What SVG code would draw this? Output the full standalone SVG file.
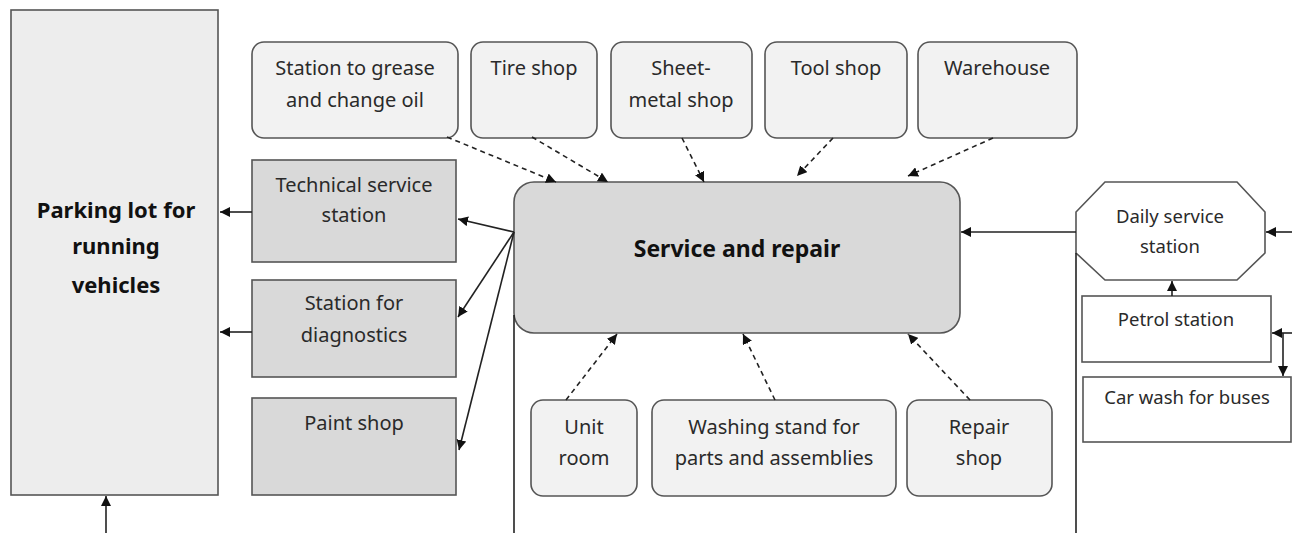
<svg xmlns="http://www.w3.org/2000/svg" width="1299" height="533" viewBox="0 0 1299 533">
<defs>
<marker id="ah" viewBox="0 0 10 10" refX="10" refY="5" markerWidth="10" markerHeight="10" markerUnits="userSpaceOnUse" orient="auto">
<path d="M0,0 L10,5 L0,10 z" fill="#111"/>
</marker>
</defs>
<style>
.box{stroke:#555;stroke-width:1.6}
.light{fill:#f2f2f2}
.park{fill:#ededed}
.dark{fill:#d9d9d9}
.white{fill:#ffffff}
text{font-family:"Noto Sans","Open Sans",sans-serif;font-size:20px;fill:#2a2a2a;text-anchor:middle}
.b{font-weight:bold;font-size:22px;fill:#111}
.t{font-weight:bold;font-size:23px;fill:#111}
.s{font-size:18.5px}
.c{fill:none;stroke:#222;stroke-width:1.6}
.d{fill:none;stroke:#222;stroke-width:1.6;stroke-dasharray:5,4}
</style>
<rect width="1299" height="533" fill="#ffffff"/>

<g id="parking">
<rect class="box park" x="11" y="10" width="207" height="485"/>
<text class="b" x="116" y="218">Parking lot for</text>
<text class="b" x="116" y="254">running</text>
<text class="b" x="116" y="293">vehicles</text>
</g>

<g id="technical">
<rect class="box dark" x="252" y="160" width="204" height="102"/>
<text x="354" y="192">Technical service</text>
<text x="354" y="222">station</text>
</g>
<g id="diagnostics">
<rect class="box dark" x="252" y="280" width="204" height="97"/>
<text x="354" y="310">Station for</text>
<text x="354" y="342">diagnostics</text>
</g>
<g id="paint">
<rect class="box dark" x="252" y="398" width="204" height="97"/>
<text x="354" y="430">Paint shop</text>
</g>

<g id="grease">
<rect class="box light" x="252" y="42" width="206" height="96" rx="12"/>
<text x="355" y="75">Station to grease</text>
<text x="355" y="107">and change oil</text>
</g>
<g id="tire">
<rect class="box light" x="471" y="42" width="126" height="96" rx="12"/>
<text x="534" y="75">Tire shop</text>
</g>
<g id="sheet">
<rect class="box light" x="611" y="42" width="141" height="96" rx="12"/>
<text x="681" y="75">Sheet-</text>
<text x="681" y="107">metal shop</text>
</g>
<g id="tool">
<rect class="box light" x="765" y="42" width="142" height="96" rx="12"/>
<text x="836" y="75">Tool shop</text>
</g>
<g id="warehouse">
<rect class="box light" x="918" y="42" width="159" height="96" rx="12"/>
<text x="997" y="75">Warehouse</text>
</g>

<g id="service">
<rect class="box dark" x="514" y="182" width="446" height="151" rx="20"/>
<text class="t" x="737" y="257">Service and repair</text>
</g>

<g id="unit">
<rect class="box light" x="531" y="400" width="106" height="96" rx="12"/>
<text x="584" y="434">Unit</text>
<text x="584" y="465">room</text>
</g>
<g id="washing">
<rect class="box light" x="652" y="400" width="244" height="96" rx="12"/>
<text x="774" y="434">Washing stand for</text>
<text x="774" y="465">parts and assemblies</text>
</g>
<g id="repair">
<rect class="box light" x="907" y="400" width="145" height="96" rx="12"/>
<text x="979" y="434">Repair</text>
<text x="979" y="465">shop</text>
</g>

<g id="daily">
<polygon class="box white" points="1105,182 1237,182 1265,212 1265,253 1237,280 1105,280 1076,253 1076,212"/>
<text class="s" x="1170" y="223">Daily service</text>
<text class="s" x="1170" y="253">station</text>
</g>
<g id="petrol">
<rect class="box white" x="1082" y="296" width="189" height="66"/>
<text class="s" x="1176" y="326">Petrol station</text>
</g>
<g id="carwash">
<rect class="box white" x="1083" y="377" width="208" height="65"/>
<text class="s" x="1187" y="404">Car wash for buses</text>
</g>

<g id="connectors">
<line class="c" x1="106" y1="533" x2="106" y2="496" marker-end="url(#ah)"/>
<line class="c" x1="252" y1="212" x2="220" y2="212" marker-end="url(#ah)"/>
<line class="c" x1="252" y1="332" x2="220" y2="332" marker-end="url(#ah)"/>
<line class="c" x1="514" y1="232" x2="458" y2="219" marker-end="url(#ah)"/>
<line class="c" x1="514" y1="232" x2="458" y2="317" marker-end="url(#ah)"/>
<line class="c" x1="514" y1="232" x2="459" y2="450" marker-end="url(#ah)"/>
<line class="c" x1="514" y1="315" x2="514" y2="533"/>
<line class="c" x1="1076" y1="253" x2="1076" y2="533"/>
<line class="c" x1="1076" y1="232" x2="961" y2="232" marker-end="url(#ah)"/>
<line class="c" x1="1292" y1="232" x2="1266" y2="232" marker-end="url(#ah)"/>
<line class="c" x1="1172" y1="296" x2="1172" y2="281" marker-end="url(#ah)"/>
<line class="c" x1="1292" y1="333" x2="1272" y2="333" marker-end="url(#ah)"/>
<line class="c" x1="1283" y1="333" x2="1283" y2="376" marker-end="url(#ah)"/>
<line class="d" x1="447" y1="137" x2="556" y2="182" marker-end="url(#ah)"/>
<line class="d" x1="532" y1="137" x2="608" y2="182" marker-end="url(#ah)"/>
<line class="d" x1="682" y1="138" x2="704" y2="182" marker-end="url(#ah)"/>
<line class="d" x1="833" y1="138" x2="797" y2="176" marker-end="url(#ah)"/>
<line class="d" x1="993" y1="138" x2="908" y2="176" marker-end="url(#ah)"/>
<line class="d" x1="566" y1="400" x2="617" y2="334" marker-end="url(#ah)"/>
<line class="d" x1="775" y1="400" x2="743" y2="334" marker-end="url(#ah)"/>
<line class="d" x1="970" y1="400" x2="908" y2="334" marker-end="url(#ah)"/>
</g>
</svg>
